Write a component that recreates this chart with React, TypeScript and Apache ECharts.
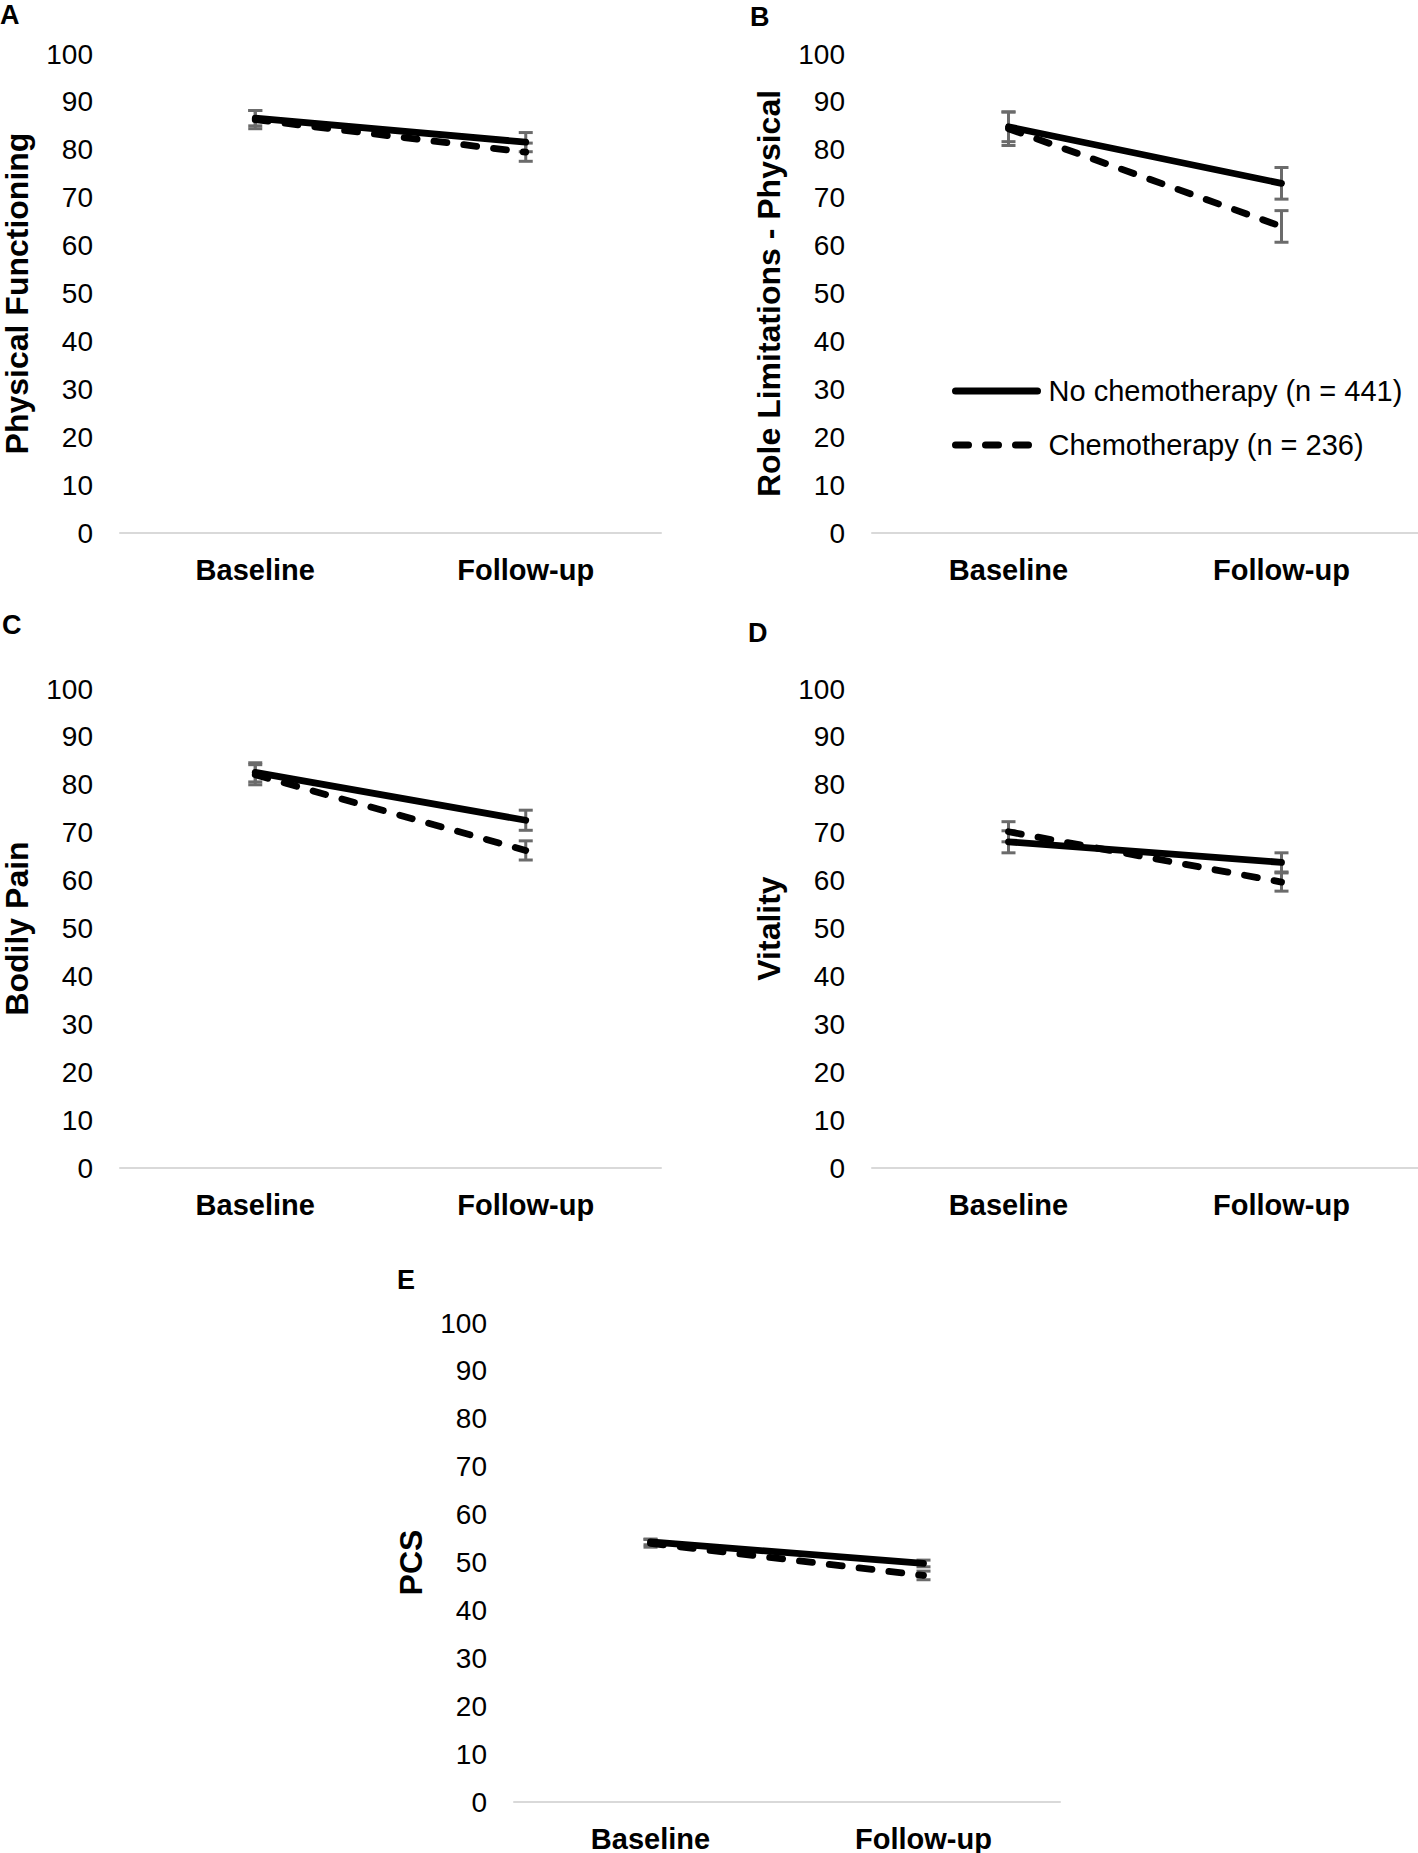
import React, { useEffect, useRef } from "react";
import * as echarts from "echarts";

// ---- data ----
const categories = ["Baseline", "Follow-up"];
const panelLetters = ["A", "B", "C", "D", "E"];
const yTitles = [
  "Physical Functioning",
  "Role Limitations - Physical",
  "Bodily Pain",
  "Vitality",
  "PCS",
];
const seriesNames = ["No chemotherapy (n = 441)", "Chemotherapy (n = 236)"];
const noChemoMeans = [
  [86.6, 81.6],
  [84.8, 73.0],
  [82.6, 72.6],
  [68.1, 63.8],
  [54.3, 49.8],
];
const noChemoCI = [
  [1.6, 2.0],
  [3.1, 3.3],
  [2.0, 2.1],
  [2.3, 2.0],
  [0.6, 0.7],
];
const chemoMeans = [
  [86.3, 79.5],
  [84.4, 64.0],
  [82.1, 66.3],
  [70.2, 59.7],
  [54.0, 47.3],
];
const chemoCI = [
  [1.9, 1.9],
  [3.5, 3.3],
  [2.1, 2.0],
  [2.1, 1.9],
  [0.8, 0.9],
];
const yMin = 0;
const yMax = 100;
const yStep = 10;

// ---- layout ----
const W = 1418;
const H = 1853;
const FONT = "'Liberation Sans', Arial, Helvetica, sans-serif";
const grids = [
  { left: 117, top: 54, width: 544, height: 479 },
  { left: 872, top: 54, width: 546, height: 479 },
  { left: 117, top: 689, width: 544, height: 479 },
  { left: 872, top: 689, width: 546, height: 479 },
  { left: 514, top: 1323, width: 546, height: 479 },
];
const letterPos = [
  [0, 15],
  [750, 17],
  [2, 625],
  [748, 633],
  [397, 1280],
];

const ERR_COLOR = "#6b6b6b";

function errRender(params: any, api: any) {
  const x = api.value(0);
  const lo = api.coord([x, api.value(1)]);
  const hi = api.coord([x, api.value(2)]);
  const hw = 7;
  const style = { stroke: ERR_COLOR, lineWidth: 3 };
  return {
    type: "group",
    children: [
      { type: "line", shape: { x1: hi[0], y1: hi[1], x2: lo[0], y2: lo[1] }, style },
      { type: "line", shape: { x1: hi[0] - hw, y1: hi[1], x2: hi[0] + hw, y2: hi[1] }, style },
      { type: "line", shape: { x1: lo[0] - hw, y1: lo[1], x2: lo[0] + hw, y2: lo[1] }, style },
    ],
  };
}

function buildOption() {
  const grid: any[] = [];
  const xAxis: any[] = [];
  const yAxis: any[] = [];
  const series: any[] = [];
  const groups = [
    { name: seriesNames[0], means: noChemoMeans, ci: noChemoCI, dashed: false },
    { name: seriesNames[1], means: chemoMeans, ci: chemoCI, dashed: true },
  ];
  grids.forEach((g, i) => {
    grid.push({ ...g, containLabel: false });
    xAxis.push({
      type: "category",
      gridIndex: i,
      data: categories,
      boundaryGap: true,
      axisLine: { show: true, lineStyle: { color: "#d9d9d9", width: 2 } },
      axisTick: { show: false },
      axisLabel: {
        margin: 22,
        fontFamily: FONT,
        fontSize: 29,
        fontWeight: "bold",
        color: "#000",
      },
      splitLine: { show: false },
    });
    yAxis.push({
      type: "value",
      gridIndex: i,
      min: yMin,
      max: yMax,
      interval: yStep,
      name: yTitles[i],
      nameLocation: "middle",
      nameGap: 87,
      nameTextStyle: {
        fontFamily: FONT,
        fontSize: 32,
        fontWeight: "bold",
        color: "#000",
      },
      axisLine: { show: false },
      axisTick: { show: false },
      splitLine: { show: false },
      axisLabel: { margin: 27, fontFamily: FONT, fontSize: 28, color: "#000" },
    });
    groups.forEach((grp, gi) => {
      series.push({
        type: "custom",
        name: "err-" + i + "-" + gi,
        xAxisIndex: i,
        yAxisIndex: i,
        z: 2,
        silent: true,
        renderItem: errRender,
        data: grp.means[i].map((m, k) => [k, m - grp.ci[i][k], m + grp.ci[i][k]]),
      });
    });
    groups.forEach((grp) => {
      series.push({
        type: "line",
        name: grp.name,
        xAxisIndex: i,
        yAxisIndex: i,
        z: 3,
        symbol: "none",
        data: grp.means[i],
        lineStyle: {
          color: "#000",
          width: 6.8,
          type: grp.dashed ? [13, 17] : "solid",
          cap: "round",
          join: "round",
        },
        itemStyle: { color: "#000" },
      });
    });
  });

  const graphic = panelLetters.map((l, i) => ({
    type: "text",
    x: letterPos[i][0],
    y: letterPos[i][1],
    style: {
      text: l,
      fontFamily: FONT,
      fontSize: 27,
      fontWeight: "bold",
      fill: "#000",
      textAlign: "left",
      textVerticalAlign: "middle",
    },
  }));

  return {
    animation: false,
    backgroundColor: "#fff",
    grid,
    xAxis,
    yAxis,
    series,
    graphic,
    legend: {
      data: seriesNames,
      orient: "vertical",
      left: 952,
      top: 374,
      padding: 0,
      itemWidth: 82,
      itemHeight: 14,
      itemGap: 20,
      selectedMode: true,
      lineStyle: { width: 7 },
      itemStyle: { color: "rgba(0,0,0,0)", borderWidth: 0, opacity: 0 },
      textStyle: {
        fontFamily: FONT,
        fontSize: 29,
        color: "#000",
        lineHeight: 34,
        padding: [0, 0, 0, 6],
      },
    },
  };
}

export default function App() {
  const ref = useRef<HTMLDivElement>(null);
  useEffect(() => {
    document.body.style.margin = "0";
    if (!ref.current) return;
    const chart = echarts.init(ref.current, undefined, { renderer: "svg" });
    chart.setOption(buildOption() as any);
    return () => {
      chart.dispose();
    };
  }, []);
  return <div ref={ref} style={{ width: W, height: H, background: "#fff" }} />;
}
